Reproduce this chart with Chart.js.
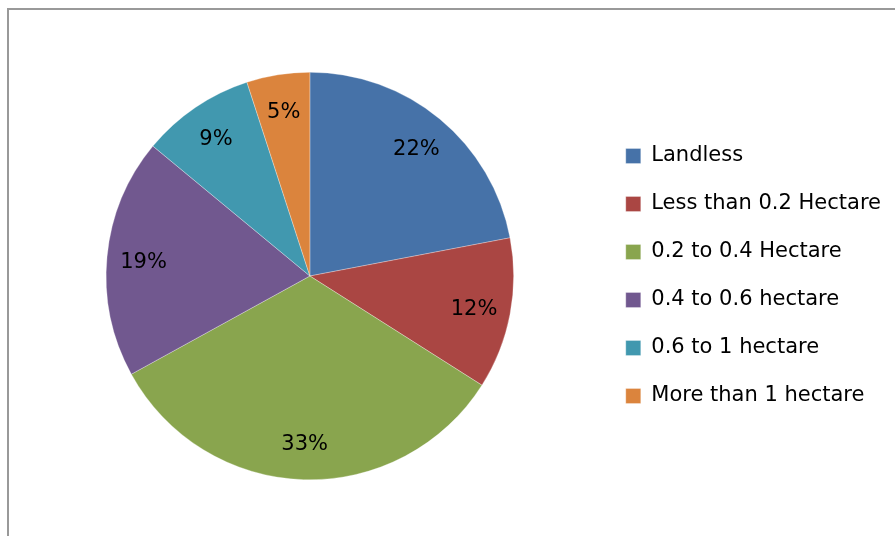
<!DOCTYPE html>
<html>
<head>
<meta charset="utf-8">
<script src="https://cdn.jsdelivr.net/npm/chart.js@4/dist/chart.umd.min.js"></script>
<style>
  html, body { margin: 0; padding: 0; background: #fff; overflow: hidden; }
  body { width: 895px; height: 536px; position: relative; }
  .frame { position: absolute; left: 7px; top: 8px; width: 1000px; height: 1000px; border: 2px solid #999; box-sizing: border-box; }
  .wrap { position: absolute; left: 0; top: 0; width: 891px; height: 536px; }
</style>
</head>
<body>
<div class="frame"></div>
<div class="wrap"><canvas id="pie"></canvas></div>
<script>
// --- données ---
const categories = ['Landless', 'Less than 0.2 Hectare', '0.2 to 0.4 Hectare', '0.4 to 0.6 hectare', '0.6 to 1 hectare', 'More than 1 hectare'];
const shares = [22, 12, 33, 19, 9, 5];
const sliceColors = ['#4672A8', '#AA4643', '#89A54E', '#71588F', '#4198AF', '#DB843D'];

const FONT = 'DejaVu Sans';

// étiquettes % dans les parts
const pctLabels = {
    id: 'pctLabels',
    afterDatasetsDraw(chart) {
        const ctx = chart.ctx;
        const meta = chart.getDatasetMeta(0);
        ctx.save();
        ctx.font = '21px "' + FONT + '"';
        ctx.fillStyle = '#000';
        ctx.textAlign = 'center';
        ctx.textBaseline = 'middle';
        meta.data.forEach((arc, i) => {
            const p = arc.getProps(['x', 'y', 'startAngle', 'endAngle', 'outerRadius'], true);
            const mid = (p.startAngle + p.endAngle) / 2;
            const r = p.outerRadius * 0.82;
            ctx.fillText(shares[i] + '%', p.x + Math.cos(mid) * r, p.y + Math.sin(mid) * r + 2);
        });
        ctx.restore();
    }
};

new Chart(document.getElementById('pie'), {
    type: 'pie',
    data: {
        labels: categories,
        datasets: [{
            data: shares,
            backgroundColor: sliceColors,
            borderColor: 'rgba(255,255,255,0.6)',
            borderWidth: 0.5
        }]
    },
    options: {
        responsive: true,
        maintainAspectRatio: false,
        animation: false,
        layout: { padding: { left: 21, top: 72, bottom: 56, right: 0 } },
        plugins: {
            tooltip: { enabled: false },
            legend: {
                position: 'right',
                labels: {
                    boxWidth: 15,
                    boxHeight: 15,
                    padding: 27,
                    color: '#000',
                    font: { family: FONT, size: 21 }
                }
            }
        }
    },
    plugins: [pctLabels]
});
</script>
</body>
</html>
